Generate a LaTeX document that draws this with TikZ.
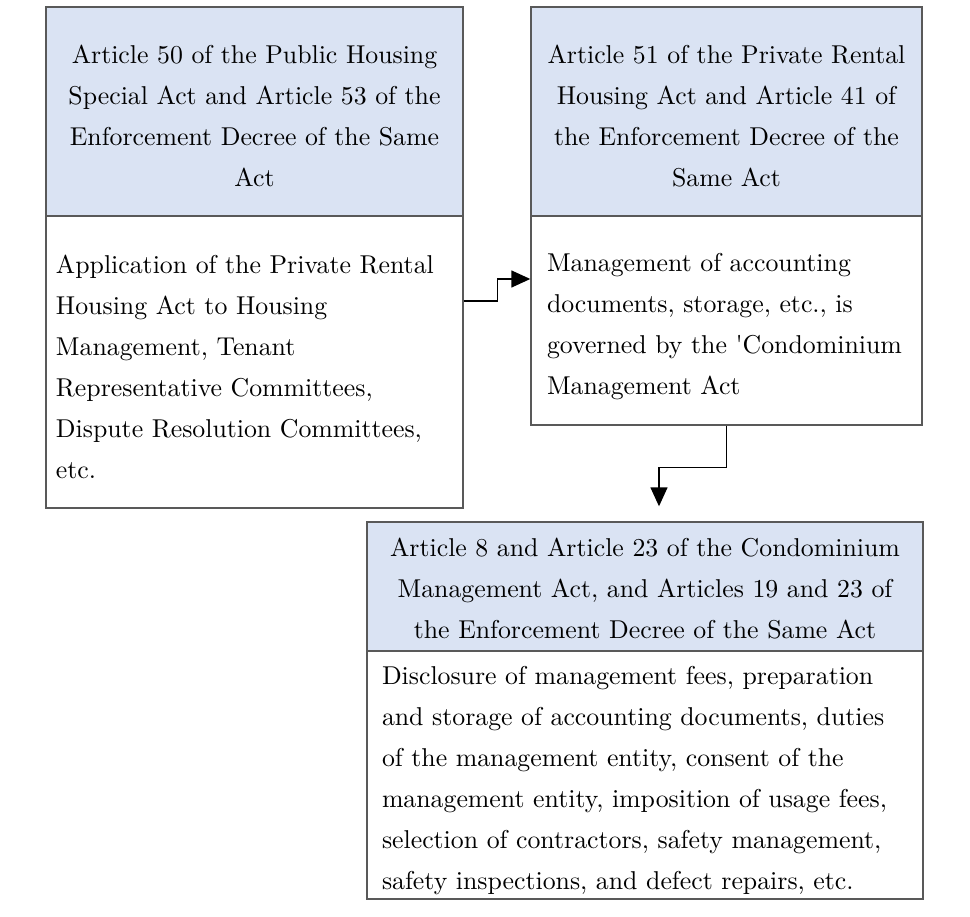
\documentclass[tikz,border=0pt]{standalone}
\usepackage{fontspec}
\setmainfont{lmroman10-regular.otf}
\usetikzlibrary{arrows.meta}
\definecolor{headblue}{HTML}{DAE3F3}
\definecolor{boxgray}{HTML}{595959}
\begin{document}
\begin{tikzpicture}[x=1pt, y=-1pt,
  box/.style={draw=boxgray, line width=1.4pt, inner ysep=0pt, font=\fontsize{25.8}{41}\selectfont},
  drop/.style={execute at begin node={\rule{0pt}{#1}}},
  head/.style={box, fill=headblue, align=center, inner xsep=10pt},
  body/.style={box, align=left},
  link/.style={line width=1.5pt, -{Triangle[length=19pt,width=17pt]}}]
\useasboundingbox (0,0) rectangle (970,917);
% upper left
\node[head, drop=28pt, text width=397pt, minimum height=209pt] (H1) at (254.5,111.5)
  {Article 50 of the Public Housing\\Special Act and Article 53 of the\\Enforcement Decree of the Same\\Act};
\node[body, drop=28pt, inner xsep=10pt, text width=397pt, minimum height=292pt] (B1) at (254.5,362)
  {Application of the Private Rental\\Housing Act to Housing\\Management, Tenant\\Representative Committees,\\Dispute Resolution Committees,\\etc.};
% upper right
\node[head, drop=28pt, text width=371pt, minimum height=209pt] (H2) at (726.5,111.5)
  {Article 51 of the Private Rental\\Housing Act and Article 41 of\\the Enforcement Decree of the\\Same Act};
\node[body, drop=30pt, inner xsep=16pt, text width=359pt, minimum height=209pt] (B2) at (726.5,320.5)
  {Management of accounting\\documents, storage, etc., is\\governed by the \textquotesingle Condominium\\Management Act};
% lower
\node[head, drop=23pt, text width=536pt, minimum height=129pt] (H3) at (645,586.5)
  {Article 8 and Article 23 of the Condominium\\Management Act, and Articles 19 and 23 of\\the Enforcement Decree of the Same Act};
\node[body, drop=30pt, inner xsep=15pt, text width=526pt, minimum height=248pt] (B3) at (645,775)
  {Disclosure of management fees, preparation\\and storage of accounting documents, duties\\of the management entity, consent of the\\management entity, imposition of usage fees,\\selection of contractors, safety management,\\safety inspections, and defect repairs, etc.};
\draw[link] ([yshift=61pt]B1.east) -- ++(34pt,0pt) |- ([yshift=41.5pt]B2.west);
\draw[link] (B2.south) -- ++(0pt,-42pt) -| ([xshift=14pt,yshift=15pt]H3.north);
\end{tikzpicture}
\end{document}
